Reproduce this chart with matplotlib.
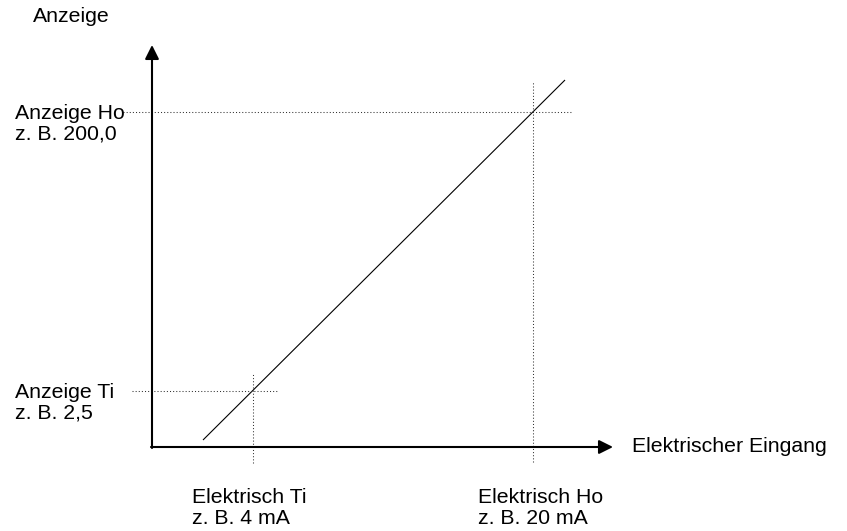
import matplotlib
matplotlib.use("Agg")
import matplotlib.pyplot as plt

plt.rcParams['font.family'] = ['Liberation Sans', 'DejaVu Sans']

# Schematic units (origin of the axes cross at 0,0)
axis_x_end = 4.61
axis_y_end = 4.02
line_x = [0.51, 4.13]
line_y = [0.07, 3.67]
ti_point = (1.01, 0.56)   # Elektrisch Ti / Anzeige Ti
ho_point = (3.81, 3.35)   # Elektrisch Ho / Anzeige Ho
ti_vert = (-0.16, 0.74)
ho_vert = (-0.15, 3.65)
ti_horiz = (-0.20, 1.25)
ho_horiz = (-0.29, 4.19)

y_title = "Anzeige"
x_title = "Elektrischer Eingang"
y_labels = ["Anzeige Ho\nz. B. 200,0", "Anzeige Ti\nz. B. 2,5"]
x_labels = ["Elektrisch Ti\nz. B. 4 mA", "Elektrisch Ho\nz. B. 20 mA"]

fig = plt.figure(figsize=(8.47, 5.31), dpi=100)
ax = fig.add_axes([0, 0, 1, 1])
ax.set_xlim(-1.52, 6.95)
ax.set_ylim(-0.84, 4.47)
ax.axis('off')

fs = 15.3
arrow = dict(arrowstyle='-|>,head_length=0.6,head_width=0.3', lw=1.5,
             color='black', mutation_scale=14, shrinkA=0, shrinkB=0)
ax.annotate('', xy=(0, axis_y_end), xytext=(0, -0.01), arrowprops=arrow)
ax.annotate('', xy=(axis_x_end, 0), xytext=(-0.01, 0), arrowprops=arrow)

# main characteristic line
ax.plot(line_x, line_y, color='black', lw=0.8, solid_capstyle='butt')

dot = dict(color='#333333', lw=0.75, linestyle=(0, (1, 2)))
ax.plot([ti_point[0], ti_point[0]], ti_vert, **dot)
ax.plot([ho_point[0], ho_point[0]], ho_vert, **dot)
ax.plot(ti_horiz, [ti_point[1], ti_point[1]], **dot)
ax.plot(ho_horiz, [ho_point[1], ho_point[1]], **dot)

# texts
ax.text(-1.19, 4.30, y_title, fontsize=fs, ha='left', va='center')
ax.text(4.80, 0.0, x_title, fontsize=fs, ha='left', va='center')
ax.text(-1.37, ho_point[1] - 0.12, y_labels[0], fontsize=fs, ha='left',
        va='center', linespacing=1.08)
ax.text(-1.37, ti_point[1] - 0.12, y_labels[1], fontsize=fs, ha='left',
        va='center', linespacing=1.08)
ax.text(0.40, -0.61, x_labels[0], fontsize=fs, ha='left', va='center',
        linespacing=1.08)
ax.text(3.26, -0.61, x_labels[1], fontsize=fs, ha='left', va='center',
        linespacing=1.08)

fig.savefig("out.png", dpi=100)
